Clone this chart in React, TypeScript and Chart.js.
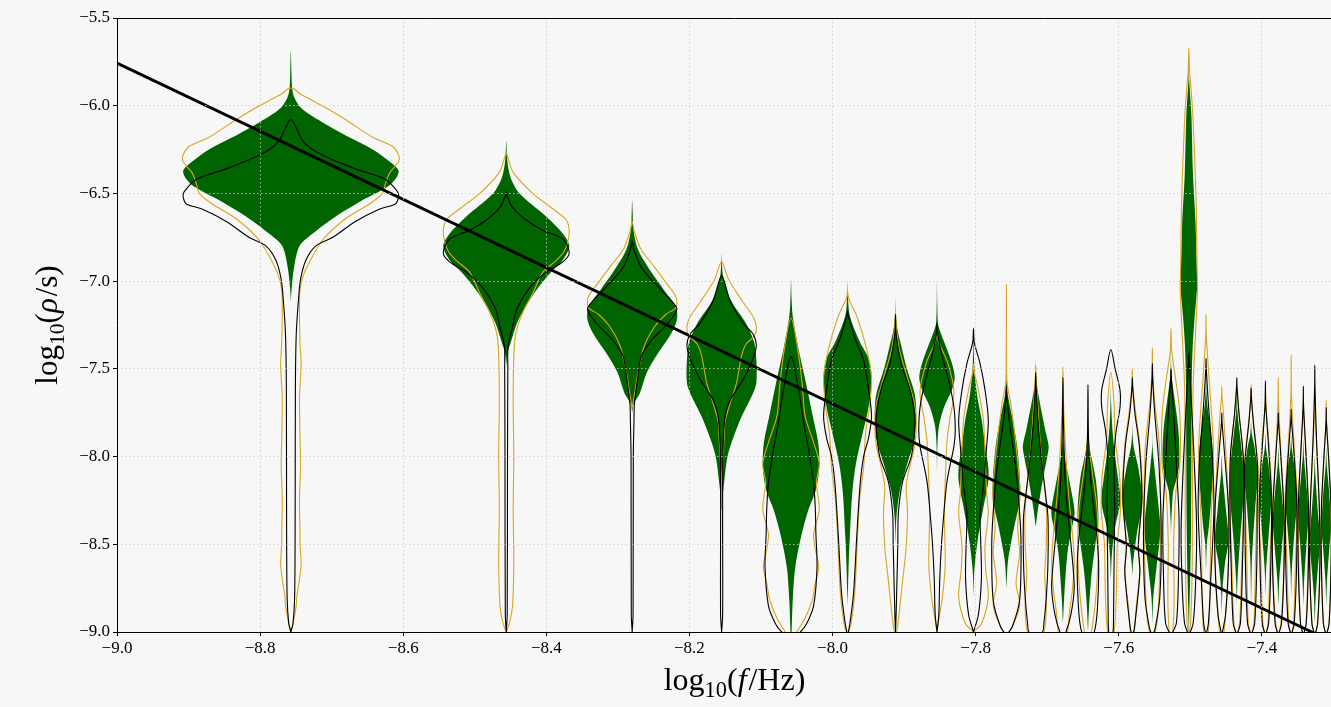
import React, { useEffect, useRef } from 'react';
import { Chart, registerables } from 'chart.js';

Chart.register(...registerables);

// ---------------- data ----------------
// log10 of the harmonic frequencies (violin positions)
const freqs = [
  -8.757, -8.456, -8.280, -8.155, -8.058, -7.979, -7.912, -7.854, -7.803, -7.757,
  -7.716, -7.678, -7.643, -7.611, -7.581, -7.553, -7.527, -7.502, -7.478, -7.456,
  -7.435, -7.415, -7.395, -7.377, -7.359, -7.342, -7.326, -7.310,
];

// density profiles: [log10(rho), relative half-width], bottom -> top
const greenProfiles: number[][][] = [
  [[-7.12,0],[-7.05,0.006],[-6.92,0.03],[-6.8,0.08],[-6.73,0.2],[-6.63,0.42],[-6.54,0.66],[-6.46,0.9],[-6.41,0.98],[-6.37,1.0],[-6.33,0.94],[-6.25,0.76],[-6.16,0.48],[-6.06,0.2],[-6.01,0.09],[-5.95,0.03],[-5.9,0.012],[-5.8,0.005],[-5.68,0]],
  [[-7.48,0],[-7.41,0.02],[-7.34,0.08],[-7.24,0.17],[-7.15,0.3],[-7.05,0.48],[-6.95,0.71],[-6.88,0.9],[-6.8,1.0],[-6.73,0.9],[-6.63,0.63],[-6.5,0.21],[-6.42,0.08],[-6.35,0.03],[-6.28,0.01],[-6.2,0]],
  [[-7.75,0],[-7.7,0.03],[-7.64,0.17],[-7.52,0.33],[-7.41,0.58],[-7.3,0.87],[-7.22,1.0],[-7.15,0.98],[-7.05,0.71],[-6.95,0.43],[-6.82,0.13],[-6.71,0.03],[-6.6,0.01],[-6.54,0]],
  [[-8.28,0],[-8.15,0.07],[-8.0,0.17],[-7.89,0.34],[-7.77,0.58],[-7.65,0.88],[-7.58,1.0],[-7.45,1.0],[-7.35,0.94],[-7.24,0.7],[-7.11,0.27],[-6.98,0.05],[-6.9,0.01],[-6.84,0]],
  [[-9.05,0],[-9.0,0.02],[-8.82,0.06],[-8.63,0.15],[-8.44,0.38],[-8.3,0.62],[-8.19,0.88],[-8.06,1.0],[-7.92,0.96],[-7.77,0.77],[-7.58,0.53],[-7.39,0.27],[-7.2,0.06],[-7.1,0.02],[-6.99,0]],
  [[-8.85,0],[-8.6,0.05],[-8.44,0.1],[-8.2,0.2],[-8.04,0.35],[-7.89,0.59],[-7.73,0.86],[-7.58,1.0],[-7.45,0.9],[-7.34,0.49],[-7.2,0.1],[-7.1,0.02],[-7.0,0]],
  [[-8.5,0],[-8.35,0.04],[-8.2,0.2],[-8.06,0.52],[-7.9,0.92],[-7.75,1.0],[-7.64,0.92],[-7.5,0.55],[-7.37,0.28],[-7.28,0.1],[-7.2,0.02],[-7.1,0]],
  [[-8.1,0],[-7.95,0.02],[-7.83,0.1],[-7.72,0.38],[-7.61,0.85],[-7.55,0.97],[-7.48,0.85],[-7.37,0.48],[-7.28,0.15],[-7.24,0.05],[-7.1,0.01],[-7.0,0]],
  [[-8.8,0],[-8.65,0.05],[-8.48,0.25],[-8.29,0.6],[-8.14,0.9],[-8.06,0.9],[-7.94,0.71],[-7.79,0.5],[-7.65,0.22],[-7.5,0.06],[-7.35,0.01],[-7.25,0]],
  [[-8.75,0],[-8.6,0.1],[-8.5,0.3],[-8.4,0.53],[-8.25,0.91],[-8.14,0.93],[-7.94,0.73],[-7.79,0.43],[-7.65,0.1],[-7.55,0.02],[-7.4,0]],
  [[-8.4,0],[-8.29,0.18],[-8.14,0.5],[-8.0,0.85],[-7.94,0.95],[-7.85,0.7],[-7.79,0.55],[-7.64,0.18],[-7.55,0.03],[-7.45,0]],
  [[-8.95,0],[-8.8,0.1],[-8.55,0.36],[-8.42,0.67],[-8.32,0.93],[-8.17,0.6],[-8.0,0.15],[-7.9,0.03],[-7.8,0]],
  [[-9.0,0],[-8.85,0.1],[-8.66,0.33],[-8.5,0.65],[-8.35,0.91],[-8.14,0.7],[-7.95,0.15],[-7.85,0.03],[-7.75,0]],
  [[-8.7,0],[-8.55,0.1],[-8.4,0.4],[-8.25,0.9],[-8.14,0.7],[-8.0,0.4],[-7.85,0.15],[-7.7,0.03],[-7.6,0]],
  [[-8.68,0],[-8.6,0.08],[-8.44,0.45],[-8.25,1.0],[-8.06,0.58],[-7.95,0.15],[-7.88,0.03],[-7.8,0]],
  [[-8.95,0],[-8.8,0.1],[-8.63,0.45],[-8.42,0.85],[-8.25,0.6],[-8.05,0.2],[-7.95,0.03],[-7.85,0]],
  [[-8.45,0],[-8.35,0.05],[-8.2,0.24],[-8.14,0.55],[-8.04,0.93],[-7.85,0.83],[-7.66,0.37],[-7.55,0.1],[-7.47,0.02],[-7.4,0]],
  [[-9.02,0],[-8.9,0.05],[-8.7,0.15],[-8.4,0.25],[-8.0,0.3],[-7.6,0.33],[-7.37,0.45],[-7.2,0.68],[-7.02,0.97],[-6.85,0.87],[-6.67,0.78],[-6.39,0.48],[-6.06,0.3],[-5.9,0.1],[-5.84,0.03],[-5.68,0]],
  [[-8.65,0],[-8.5,0.1],[-8.4,0.36],[-8.23,0.68],[-8.04,0.95],[-7.85,0.6],[-7.7,0.15],[-7.6,0.03],[-7.5,0]],
  [[-8.9,0],[-8.75,0.1],[-8.6,0.45],[-8.48,0.9],[-8.3,0.55],[-8.1,0.1],[-8.0,0]],
  [[-8.85,0],[-8.7,0.1],[-8.45,0.5],[-8.23,0.93],[-8.06,0.93],[-7.9,0.5],[-7.75,0.1],[-7.65,0]],
  [[-8.85,0],[-8.6,0.1],[-8.45,0.3],[-8.3,0.55],[-8.1,0.93],[-7.95,0.5],[-7.87,0.1],[-7.8,0]],
  [[-8.8,0],[-8.65,0.1],[-8.45,0.5],[-8.23,0.9],[-8.05,0.5],[-7.95,0.1],[-7.87,0]],
  [[-8.85,0],[-8.7,0.15],[-8.5,0.6],[-8.36,0.85],[-8.2,0.5],[-8.05,0.1],[-7.95,0]],
  [[-8.8,0],[-8.65,0.1],[-8.45,0.5],[-8.23,1.0],[-8.05,0.5],[-7.95,0.1],[-7.88,0]],
  [[-8.85,0],[-8.7,0.15],[-8.5,0.55],[-8.32,0.9],[-8.15,0.5],[-8.0,0.1],[-7.9,0]],
  [[-8.95,0],[-8.8,0.15],[-8.65,0.5],[-8.48,0.9],[-8.3,0.5],[-8.1,0.1],[-8.0,0]],
  [[-8.85,0],[-8.7,0.15],[-8.5,0.6],[-8.4,0.85],[-8.2,0.5],[-8.05,0.1],[-7.95,0]],
];

const orangeProfiles: number[][][] = [
  [[-9.0,0],[-8.95,0.02],[-8.85,0.05],[-8.8,0.055],[-8.7,0.08],[-8.61,0.095],[-8.5,0.085],[-8.42,0.085],[-8.3,0.08],[-8.23,0.08],[-8.1,0.088],[-8.04,0.09],[-7.9,0.085],[-7.8,0.082],[-7.66,0.08],[-7.55,0.09],[-7.47,0.095],[-7.35,0.085],[-7.2,0.08],[-7.05,0.085],[-6.96,0.12],[-6.86,0.2],[-6.77,0.29],[-6.71,0.38],[-6.63,0.54],[-6.56,0.73],[-6.5,0.85],[-6.44,0.88],[-6.38,0.92],[-6.32,1.0],[-6.28,1.0],[-6.23,0.94],[-6.18,0.76],[-6.08,0.51],[-6.02,0.35],[-5.97,0.2],[-5.93,0.08],[-5.905,0.03],[-5.9,0]],
  [[-9.0,0],[-8.95,0.05],[-8.85,0.1],[-8.6,0.12],[-8.3,0.11],[-8.0,0.12],[-7.7,0.11],[-7.43,0.12],[-7.3,0.15],[-7.18,0.26],[-7.07,0.42],[-6.95,0.58],[-6.88,0.8],[-6.83,0.92],[-6.77,0.98],[-6.71,1.0],[-6.65,0.95],[-6.58,0.71],[-6.5,0.42],[-6.38,0.11],[-6.3,0.03],[-6.27,0]],
  [[-7.72,0],[-7.65,0.05],[-7.52,0.13],[-7.37,0.27],[-7.26,0.5],[-7.19,0.75],[-7.15,0.98],[-7.09,0.98],[-7.01,0.76],[-6.92,0.5],[-6.82,0.2],[-6.72,0.05],[-6.66,0]],
  [[-8.3,0],[-8.1,0.02],[-7.9,0.07],[-7.8,0.1],[-7.7,0.24],[-7.58,0.43],[-7.43,0.57],[-7.36,0.7],[-7.31,0.95],[-7.26,1.0],[-7.2,0.9],[-7.12,0.62],[-6.99,0.2],[-6.89,0]],
  [[-9.05,0],[-9.0,0.2],[-8.92,0.5],[-8.82,0.75],[-8.72,0.86],[-8.63,0.98],[-8.52,0.85],[-8.44,0.8],[-8.3,1.0],[-8.15,0.9],[-8.04,1.0],[-7.92,0.8],[-7.77,0.5],[-7.58,0.39],[-7.39,0.24],[-7.21,0]],
  [[-9.02,0],[-8.95,0.15],[-8.78,0.3],[-8.5,0.4],[-8.25,0.5],[-8.06,0.67],[-7.87,0.75],[-7.73,0.9],[-7.55,1.0],[-7.39,0.8],[-7.2,0.39],[-7.1,0.05],[-7.06,0]],
  [[-9.02,0],[-8.97,0.1],[-8.7,0.35],[-8.51,0.52],[-8.32,0.58],[-8.17,0.52],[-8.06,0.68],[-7.94,0.92],[-7.81,1.0],[-7.7,0.92],[-7.56,0.6],[-7.39,0.19],[-7.25,0.03],[-7.17,0]],
  [[-9.0,0],[-8.93,0.1],[-8.8,0.3],[-8.61,0.45],[-8.32,0.4],[-8.14,0.45],[-7.91,0.55],[-7.79,0.7],[-7.63,0.93],[-7.47,0.6],[-7.35,0.1],[-7.3,0]],
  [[-9.0,0],[-8.95,0.5],[-8.8,0.9],[-8.65,0.75],[-8.51,0.7],[-8.32,0.9],[-8.21,0.8],[-8.04,0.73],[-7.79,0.6],[-7.62,0.3],[-7.52,0.05],[-7.47,0]],
  [[-9.02,0],[-8.97,0.4],[-8.85,0.9],[-8.72,0.66],[-8.55,0.9],[-8.4,0.77],[-8.2,0.93],[-7.94,0.66],[-7.7,0.3],[-7.58,0.05],[-7.4,0.01],[-7.02,0]],
  [[-9.02,0],[-9.0,0.6],[-8.85,0.78],[-8.68,0.66],[-8.5,0.78],[-8.3,0.78],[-8.1,0.55],[-7.94,0.35],[-7.7,0.15],[-7.55,0.03],[-7.48,0]],
  [[-9.02,0],[-9.0,0.37],[-8.9,0.5],[-8.75,0.77],[-8.6,0.9],[-8.45,0.77],[-8.25,0.5],[-8.0,0.24],[-7.7,0.05],[-7.49,0]],
  [[-9.02,0],[-9.0,0.3],[-8.75,0.75],[-8.5,0.9],[-8.3,0.8],[-8.1,0.4],[-7.95,0.1],[-7.88,0]],
  [[-9.02,0],[-9.0,0.3],[-8.8,0.5],[-8.5,0.6],[-8.3,0.9],[-8.1,0.8],[-7.9,0.4],[-7.7,0.3],[-7.52,0]],
  [[-9.02,0],[-9.0,0.2],[-8.85,0.4],[-8.66,0.75],[-8.51,0.58],[-8.23,1.0],[-7.94,0.75],[-7.75,0.33],[-7.6,0.05],[-7.5,0]],
  [[-9.02,0],[-9.0,0.3],[-8.9,0.6],[-8.63,0.8],[-8.35,0.9],[-7.94,0.75],[-7.66,0.2],[-7.5,0.03],[-7.38,0]],
  [[-9.02,0],[-9.0,0.2],[-8.8,0.35],[-8.5,0.3],[-8.2,0.55],[-8.04,1.0],[-7.75,0.98],[-7.55,0.5],[-7.4,0.08],[-7.27,0]],
  [[-9.02,0],[-8.95,0.2],[-8.6,0.4],[-8.0,0.42],[-7.6,0.5],[-7.3,0.78],[-7.05,1.0],[-6.9,0.95],[-6.6,0.87],[-6.3,0.68],[-6.0,0.4],[-5.8,0.08],[-5.67,0]],
  [[-9.02,0],[-9.0,0.3],[-8.8,0.5],[-8.4,0.6],[-8.1,0.9],[-7.9,0.9],[-7.5,0.3],[-7.3,0.03],[-7.19,0]],
  [[-9.02,0],[-9.0,0.3],[-8.7,0.8],[-8.4,0.95],[-8.1,0.7],[-7.8,0.3],[-7.65,0.03],[-7.6,0]],
  [[-9.02,0],[-8.95,0.4],[-8.6,0.7],[-8.2,1.0],[-7.95,0.8],[-7.75,0.3],[-7.62,0]],
  [[-9.02,0],[-8.95,0.4],[-8.6,0.6],[-8.3,0.8],[-8.1,1.0],[-7.9,0.6],[-7.7,0.1],[-7.59,0]],
  [[-9.02,0],[-8.95,0.4],[-8.6,0.7],[-8.25,1.0],[-7.95,0.6],[-7.7,0.05],[-7.62,0]],
  [[-9.02,0],[-8.95,0.4],[-8.7,0.8],[-8.36,0.95],[-8.05,0.5],[-7.7,0.05],[-7.55,0]],
  [[-9.02,0],[-8.95,0.4],[-8.6,0.7],[-8.25,1.0],[-7.95,0.5],[-7.65,0.05],[-7.42,0]],
  [[-9.02,0],[-8.95,0.5],[-8.6,0.8],[-8.3,0.9],[-8.0,0.5],[-7.75,0.05],[-7.65,0]],
  [[-9.02,0],[-8.95,0.5],[-8.6,0.9],[-8.3,0.8],[-8.0,0.4],[-7.75,0.05],[-7.65,0]],
  [[-9.02,0],[-8.95,0.5],[-8.6,0.85],[-8.3,0.8],[-8.0,0.4],[-7.8,0.05],[-7.68,0]],
];

const blackProfiles: number[][][] = [
  [[-9.0,0],[-8.95,0.02],[-8.8,0.035],[-8.3,0.04],[-7.6,0.042],[-7.3,0.05],[-7.11,0.07],[-6.99,0.09],[-6.88,0.14],[-6.8,0.23],[-6.75,0.39],[-6.66,0.6],[-6.59,0.82],[-6.56,0.97],[-6.52,1.0],[-6.49,0.99],[-6.42,0.88],[-6.36,0.6],[-6.29,0.32],[-6.25,0.2],[-6.2,0.11],[-6.14,0.06],[-6.09,0.02],[-6.08,0]],
  [[-9.0,0],[-8.9,0.015],[-8.0,0.02],[-7.5,0.025],[-7.37,0.03],[-7.26,0.1],[-7.15,0.18],[-7.03,0.39],[-6.95,0.63],[-6.89,0.9],[-6.84,1.0],[-6.76,0.9],[-6.71,0.58],[-6.65,0.31],[-6.58,0.1],[-6.52,0.02],[-6.49,0]],
  [[-9.0,0],[-8.9,0.02],[-8.0,0.025],[-7.8,0.04],[-7.7,0.05],[-7.56,0.12],[-7.43,0.2],[-7.34,0.42],[-7.24,0.8],[-7.16,1.0],[-7.11,0.87],[-7.03,0.57],[-6.92,0.2],[-6.82,0.04],[-6.77,0]],
  [[-9.0,0],[-8.9,0.03],[-8.0,0.035],[-7.77,0.1],[-7.68,0.24],[-7.56,0.62],[-7.46,0.87],[-7.37,1.0],[-7.3,0.9],[-7.24,0.62],[-7.11,0.24],[-6.97,0]],
  [[-9.03,0],[-9.0,0.33],[-8.95,0.56],[-8.85,0.8],[-8.63,0.92],[-8.44,0.88],[-8.3,0.86],[-8.15,0.8],[-7.96,0.62],[-7.81,0.45],[-7.62,0.27],[-7.43,0]],
  [[-9.02,0],[-8.95,0.1],[-8.78,0.25],[-8.44,0.39],[-8.15,0.53],[-8.0,0.67],[-7.89,0.88],[-7.77,1.0],[-7.62,0.88],[-7.45,0.67],[-7.33,0.32],[-7.2,0.03],[-7.17,0]],
  [[-9.0,0],[-8.9,0.03],[-8.51,0.11],[-8.32,0.14],[-8.14,0.35],[-8.0,0.76],[-7.85,0.92],[-7.75,0.92],[-7.61,0.68],[-7.47,0.27],[-7.3,0.03],[-7.19,0]],
  [[-9.0,0],[-8.9,0.1],[-8.7,0.15],[-8.51,0.24],[-8.32,0.38],[-8.14,0.55],[-7.94,0.93],[-7.85,1.0],[-7.72,0.93],[-7.57,0.65],[-7.43,0.29],[-7.3,0.03],[-7.24,0]],
  [[-9.0,0],[-8.9,0.3],[-8.7,0.48],[-8.51,0.45],[-8.32,0.4],[-8.17,0.6],[-7.94,0.8],[-7.79,0.9],[-7.62,0.7],[-7.47,0.4],[-7.35,0.05],[-7.27,0]],
  [[-9.02,0],[-8.97,0.4],[-8.82,0.9],[-8.51,1.0],[-8.32,0.9],[-8.04,0.6],[-7.8,0.2],[-7.65,0.02],[-7.6,0]],
  [[-9.02,0],[-9.0,0.5],[-8.95,0.6],[-8.8,0.78],[-8.6,0.9],[-8.35,0.9],[-8.2,0.7],[-8.0,0.4],[-7.8,0.17],[-7.6,0.03],[-7.52,0]],
  [[-9.02,0],[-9.0,0.24],[-8.9,0.64],[-8.75,0.9],[-8.6,0.77],[-8.4,0.5],[-8.15,0.19],[-7.8,0.04],[-7.55,0]],
  [[-9.02,0],[-9.0,0.55],[-8.85,0.84],[-8.6,0.93],[-8.4,0.7],[-8.15,0.26],[-7.9,0.05],[-7.59,0]],
  [[-9.02,0],[-9.0,0.2],[-8.9,0.25],[-8.6,0.3],[-8.3,0.35],[-8.0,0.3],[-7.85,0.5],[-7.72,0.85],[-7.62,0.85],[-7.5,0.4],[-7.39,0]],
  [[-9.02,0],[-8.98,0.2],[-8.66,0.75],[-8.51,0.6],[-8.23,0.95],[-7.94,0.7],[-7.75,0.25],[-7.6,0.03],[-7.55,0]],
  [[-9.02,0],[-8.98,0.3],[-8.8,0.8],[-8.42,0.95],[-8.04,0.7],[-7.75,0.25],[-7.55,0.03],[-7.47,0]],
  [[-9.02,0],[-8.95,0.6],[-8.65,0.85],[-8.35,0.9],[-8.04,0.6],[-7.75,0.3],[-7.55,0.03],[-7.5,0]],
  [[-9.02,0],[-8.95,0.5],[-8.7,0.8],[-8.4,0.9],[-8.0,0.6],[-7.6,0.2],[-7.45,0.03],[-7.41,0]],
  [[-9.02,0],[-8.95,0.3],[-8.7,0.6],[-8.3,1.0],[-8.0,0.8],[-7.7,0.3],[-7.5,0.03],[-7.44,0]],
  [[-9.02,0],[-8.9,0.5],[-8.6,0.9],[-8.3,0.9],[-8.0,0.4],[-7.8,0.03],[-7.75,0]],
  [[-9.02,0],[-8.95,0.5],[-8.6,0.8],[-8.3,0.95],[-8.0,0.9],[-7.75,0.3],[-7.6,0.03],[-7.55,0]],
  [[-9.02,0],[-8.95,0.5],[-8.6,0.8],[-8.3,0.85],[-8.05,0.9],[-7.8,0.3],[-7.65,0.03],[-7.61,0]],
  [[-9.02,0],[-8.95,0.5],[-8.6,0.85],[-8.25,0.95],[-7.95,0.5],[-7.7,0.05],[-7.57,0]],
  [[-9.02,0],[-8.95,0.5],[-8.6,0.9],[-8.3,0.85],[-8.0,0.4],[-7.8,0.03],[-7.75,0]],
  [[-9.02,0],[-8.95,0.5],[-8.6,0.9],[-8.25,0.9],[-7.95,0.4],[-7.78,0.03],[-7.73,0]],
  [[-9.02,0],[-8.95,0.5],[-8.6,0.9],[-8.3,0.9],[-7.95,0.4],[-7.7,0.03],[-7.6,0]],
  [[-9.02,0],[-8.95,0.5],[-8.6,0.9],[-8.3,0.8],[-7.9,0.3],[-7.6,0.03],[-7.48,0]],
  [[-9.02,0],[-8.95,0.5],[-8.6,0.85],[-8.3,0.85],[-8.0,0.4],[-7.8,0.03],[-7.72,0]],
];

// power-law trend line
const trendX = [-9.0, -7.2];
const trendY = [-5.757, -9.253];

// axis ticks
const xTickValues = [-9.0, -8.8, -8.6, -8.4, -8.2, -8.0, -7.8, -7.6, -7.4];
const yTickValues = [-9.0, -8.5, -8.0, -7.5, -7.0, -6.5, -6.0, -5.5];

// ---------------- styling ----------------
const W = 1352;
const H = 707;
const X_MIN = -9.0;
const X_MAX = -7.274;
const Y_MIN = -9.0;
const Y_MAX = -5.5;
const BG = '#f7f7f7';
const GREEN = '#006400';
const ORANGE = '#daa520';
const SERIF = "'Liberation Serif', 'DejaVu Serif', serif";

const fmt = (v: number) => (v < 0 ? '\u2212' : '') + Math.abs(v).toFixed(1);

function halfWidth(i: number) {
  return i < freqs.length - 1 ? (freqs[i + 1] - freqs[i]) / 2 : (freqs[i] - freqs[i - 1]) / 2;
}

function violinPath(i: number, prof: number[][]) {
  const c = freqs[i];
  const hw = halfWidth(i);
  const right = prof.map(([y, w]) => ({ x: c + w * hw, y }));
  const left = [...prof].reverse().map(([y, w]) => ({ x: c - w * hw, y }));
  return right.concat(left.slice(1));
}

type Part = { t: string; it?: boolean; sub?: boolean };

function drawMath(ctx: CanvasRenderingContext2D, parts: Part[], size: number) {
  const fontFor = (p: Part) =>
    `${p.it ? 'italic ' : ''}${p.sub ? size * 0.7 : size}px ${SERIF}`;
  let total = 0;
  const widths = parts.map((p) => {
    ctx.font = fontFor(p);
    const w = ctx.measureText(p.t).width + (p.it ? size * 0.06 : 0);
    total += w;
    return w;
  });
  let x = -total / 2;
  parts.forEach((p, k) => {
    ctx.font = fontFor(p);
    ctx.fillText(p.t, x, p.sub ? size * 0.22 : 0);
    x += widths[k];
  });
}

const framePlugin = {
  id: 'frame',
  afterDraw(chart: any) {
    const { ctx, chartArea } = chart;
    ctx.save();
    ctx.setLineDash([]);
    ctx.strokeStyle = '#000';
    ctx.lineWidth = 1;
    ctx.beginPath();
    ctx.moveTo(chartArea.left + 0.5, chartArea.top + 0.5);
    ctx.lineTo(chartArea.left + 0.5, chartArea.bottom + 0.5);
    ctx.lineTo(chartArea.right, chartArea.bottom + 0.5);
    ctx.moveTo(chartArea.left, chartArea.top + 0.5);
    ctx.lineTo(chartArea.right, chartArea.top + 0.5);
    ctx.stroke();

    ctx.fillStyle = '#000';
    ctx.textBaseline = 'alphabetic';
    ctx.textAlign = 'left';
    // x title
    ctx.save();
    ctx.translate((chartArea.left + chartArea.right) / 2, 690);
    drawMath(ctx, [{ t: 'log' }, { t: '10', sub: true }, { t: '(' }, { t: 'f', it: true }, { t: '/Hz)' }], 32);
    ctx.restore();
    // y title
    ctx.save();
    ctx.translate(57, (chartArea.top + chartArea.bottom) / 2);
    ctx.rotate(-Math.PI / 2);
    drawMath(ctx, [{ t: 'log' }, { t: '10', sub: true }, { t: '(' }, { t: '\u03c1', it: true }, { t: '/s)' }], 31);
    ctx.restore();
    ctx.restore();
  },
};

export default function App() {
  const ref = useRef<HTMLCanvasElement>(null);

  useEffect(() => {
    if (!ref.current) return;
    const datasets: any[] = [];
    datasets.push({
      data: trendX.map((x, k) => ({ x, y: trendY[k] })),
      showLine: true,
      borderColor: '#000',
      borderWidth: 2.8,
      pointRadius: 0,
      tension: 0,
      fill: false,
      order: 0,
    });
    freqs.forEach((_, i) => {
      datasets.push({
        data: violinPath(i, blackProfiles[i]),
        showLine: true,
        borderColor: '#000',
        borderWidth: 1.1,
        pointRadius: 0,
        tension: 0.3,
        fill: false,
        order: 1,
      });
      datasets.push({
        data: violinPath(i, orangeProfiles[i]),
        showLine: true,
        borderColor: ORANGE,
        borderWidth: 1.1,
        pointRadius: 0,
        tension: 0.3,
        fill: false,
        order: 2,
      });
      datasets.push({
        data: violinPath(i, greenProfiles[i]),
        showLine: true,
        borderWidth: 0,
        borderColor: GREEN,
        backgroundColor: GREEN,
        pointRadius: 0,
        tension: 0.3,
        fill: 'shape',
        order: 3,
      });
    });

    const tickFont = { family: SERIF, size: 17 };
    const grid = {
      color: '#cccccc',
      lineWidth: 0.8,
      drawTicks: true,
      tickLength: 4,
      tickColor: '#000',
      tickWidth: 1,
      z: 1,
    };

    const chart = new Chart(ref.current, {
      type: 'scatter',
      data: { datasets },
      options: {
        animation: false,
        responsive: false,
        maintainAspectRatio: false,
        events: [],
        layout: { padding: { top: 18, left: 0, right: 0, bottom: 0 } },
        plugins: { legend: { display: false }, tooltip: { enabled: false } },
        scales: {
          x: {
            type: 'linear',
            min: X_MIN,
            max: X_MAX,
            afterFit: (s: any) => { s.height = 75; },
            afterBuildTicks: (s: any) => { s.ticks = xTickValues.map((v) => ({ value: v })); },
            ticks: { callback: (v: any) => fmt(Number(v)), font: tickFont, color: '#000', padding: 2, maxRotation: 0, autoSkip: false },
            grid,
            border: { display: false, dash: [1.5, 2.5] },
          },
          y: {
            type: 'linear',
            min: Y_MIN,
            max: Y_MAX,
            afterFit: (s: any) => { s.width = 117; },
            afterBuildTicks: (s: any) => { s.ticks = yTickValues.map((v) => ({ value: v })); },
            ticks: { callback: (v: any) => fmt(Number(v)), font: tickFont, color: '#000', padding: 3, autoSkip: false },
            grid,
            border: { display: false, dash: [1.5, 2.5] },
          },
        },
      } as any,
      plugins: [framePlugin],
    });
    return () => chart.destroy();
  }, []);

  return (
    <div style={{ position: 'fixed', left: 0, top: 0, width: 1331, height: H, overflow: 'hidden', background: BG }}>
      <canvas ref={ref} width={W} height={H} style={{ width: W, height: H, display: 'block' }} />
    </div>
  );
}
